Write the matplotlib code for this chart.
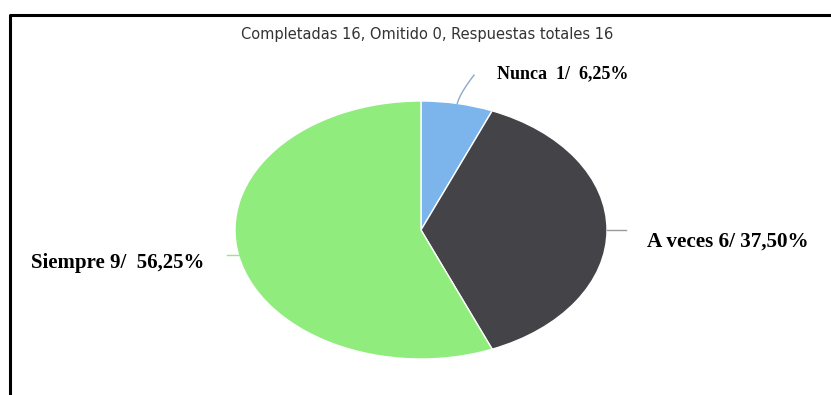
import numpy as np
import matplotlib
matplotlib.use("Agg")
import matplotlib.pyplot as plt

# survey answers
categorias = ["Nunca", "A veces", "Siempre"]
respuestas = [1, 6, 9]
etiquetas = ["Nunca  1/  6,25%", "A veces 6/ 37,50%", "Siempre 9/  56,25%"]
colores = ["#7cb5ec", "#434348", "#90ed7d"]
titulo = "Completadas 16, Omitido 0, Respuestas totales 16"

W, H = 831, 395
fig = plt.figure(figsize=(W / 100, H / 100), dpi=100)

# overlay in pixel coordinates for frame and text
base = fig.add_axes([0, 0, 1, 1])
base.set_xlim(0, W)
base.set_ylim(H, 0)
base.axis("off")
base.plot([10, 10, W], [H, 15, 15], color="black", lw=2.2, solid_capstyle="butt")
base.text(427, 34, titulo, ha="center", va="center", fontsize=10.5,
          color="#333333", family="DejaVu Sans")

# pie drawn as an ellipse: box of the pie in pixels
px0, py0, px1, py1 = 235, 101, 607, 359
ax = fig.add_axes([px0 / W, 1 - py1 / H, (px1 - px0) / W, (py1 - py0) / H])
wedges, _ = ax.pie(respuestas, colors=colores, startangle=90, counterclock=False,
                   radius=1, wedgeprops=dict(edgecolor="white", linewidth=1))
ax.set_aspect("auto")
ax.set_xlim(-1, 1)
ax.set_ylim(-1, 1)
ax.axis("off")

# connectors from the middle of each wedge
for w, c in zip(wedges, colores):
    mid = np.deg2rad((w.theta1 + w.theta2) / 2)
    x, y = np.cos(mid), np.sin(mid)
    if x > 0.5:
        ax.plot([x, x + 0.1], [y, y], color="#999999", lw=1, clip_on=False)
    elif x < -0.5:
        ax.plot([x, x - 0.06], [y, y], color=c, lw=1, clip_on=False)
    else:
        t = np.linspace(0, 1, 20)
        cx = x + 0.06 * t ** 1.5 + 0.03 * t
        cy = y + 0.22 * t
        ax.plot(cx, cy, color="#8fa9c4", lw=1, clip_on=False)

# labels
lab_pos = [(497, 78), (647, 247), (31, 268)]
lab_size = [13, 15.2, 15]
for (lx, ly), s, txt in zip(lab_pos, lab_size, etiquetas):
    base.text(lx, ly, txt, ha="left", va="baseline", fontsize=s,
              fontweight="bold", family="Liberation Serif", color="black")

fig.savefig("out.png", dpi=100)
